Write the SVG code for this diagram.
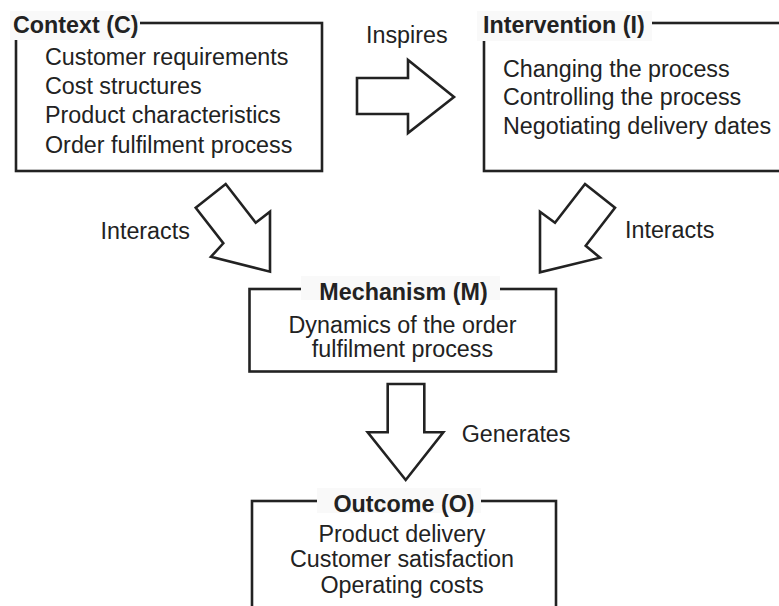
<svg xmlns="http://www.w3.org/2000/svg" width="779" height="606" viewBox="0 0 779 606">
<style>
.box{fill:none;stroke:#222;stroke-width:2.6}
.tbg{fill:#f9f9f9;stroke:none}
.arrow{fill:#fff;stroke:#222;stroke-width:2.6;stroke-linejoin:miter}
text{font-family:"Liberation Sans",Arial,sans-serif;font-size:23.3px;fill:#222}
.title{font-weight:bold}
.mid{text-anchor:middle}
</style>
<rect width="779" height="606" fill="#fff"/>
<g id="context">
<rect class="box" x="16" y="23" width="306" height="148"/>
<rect class="tbg" x="10" y="11" width="130" height="29"/>
<text class="title" x="13" y="33">Context (C)</text>
<text x="45" y="65">Customer requirements</text>
<text x="45" y="94.2">Cost structures</text>
<text x="45" y="123.4">Product characteristics</text>
<text x="45" y="152.6">Order fulfilment process</text>
</g>
<g id="intervention">
<rect class="box" x="484" y="23" width="310" height="148"/>
<rect class="tbg" x="477" y="11" width="175" height="30"/>
<text class="title" x="483" y="33">Intervention (I)</text>
<text x="503" y="76.5">Changing the process</text>
<text x="503" y="105">Controlling the process</text>
<text x="503" y="133.5">Negotiating delivery dates</text>
</g>
<g id="mechanism">
<rect class="box" x="249.5" y="289" width="306.5" height="82.5"/>
<rect class="tbg" x="301" y="276" width="199" height="24"/>
<text class="title mid" x="403.5" y="299.5">Mechanism (M)</text>
<text class="mid" x="402.5" y="333.3">Dynamics of the order</text>
<text class="mid" x="402.5" y="357.3">fulfilment process</text>
</g>
<g id="outcome">
<rect class="box" x="252" y="501" width="304" height="120"/>
<rect class="tbg" x="317" y="488" width="164" height="25"/>
<text class="title mid" x="404" y="511.7">Outcome (O)</text>
<text class="mid" x="402" y="541.7">Product delivery</text>
<text class="mid" x="402" y="567.3">Customer satisfaction</text>
<text class="mid" x="402" y="593.3">Operating costs</text>
</g>
<g id="connectors">
<polygon class="arrow" points="357,78 408,78 408,60 454,97 408,133 408,114 357,114"/>
<text x="366" y="43">Inspires</text>
<polygon class="arrow" points="195.7,207.7 225.7,184 255.7,222.7 270,211.7 270,271.7 211,256.7 223.3,243.3"/>
<text x="100.5" y="239">Interacts</text>
<polygon class="arrow" points="585,184 615,207.7 585.7,245.7 600,257.7 540,272.3 540,211.7 555,222.7"/>
<text x="625" y="238.3">Interacts</text>
<polygon class="arrow" points="387.7,384 424.3,384 424.3,432.3 443.3,432.3 405.7,480 367.7,432.3 387.7,432.3"/>
<text x="461.7" y="441.7">Generates</text>
</g>
</svg>
